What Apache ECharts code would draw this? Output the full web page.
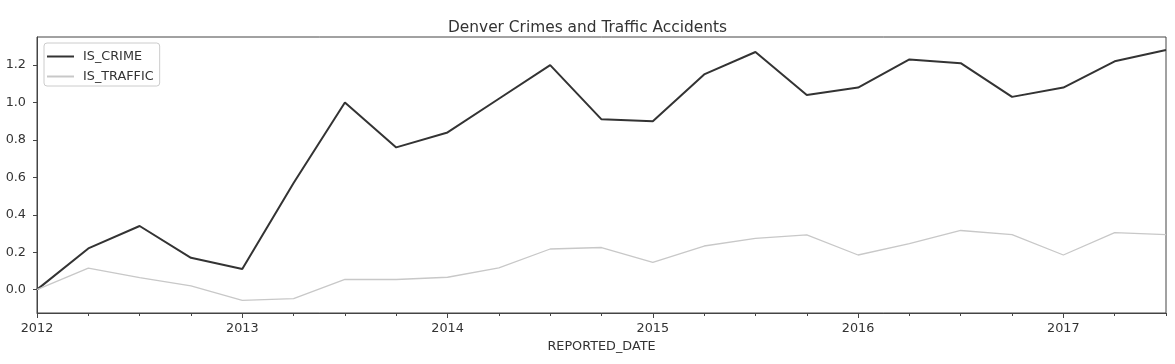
<!DOCTYPE html>
<html>
<head>
<meta charset="utf-8">
<script src="https://cdn.jsdelivr.net/npm/echarts@6/dist/echarts.min.js"></script>
<style>
html,body{margin:0;padding:0;background:#fff;}
#chart{width:1175px;height:364px;}
</style>
</head>
<body>
<div id="chart"></div>
<script>
// Quarterly periods (fractional year = start of quarter)
const quarters = [2012, 2012.25, 2012.5, 2012.75, 2013, 2013.25, 2013.5, 2013.75,
  2014, 2014.25, 2014.5, 2014.75, 2015, 2015.25, 2015.5, 2015.75,
  2016, 2016.25, 2016.5, 2016.75, 2017, 2017.25, 2017.5];
const isCrime = [0.00, 0.22, 0.34, 0.17, 0.11, 0.57, 1.00, 0.76,
  0.84, 1.02, 1.20, 0.91, 0.90, 1.15, 1.27, 1.04,
  1.08, 1.23, 1.21, 1.03, 1.08, 1.22, 1.28];
const isTraffic = [0.00, 0.115, 0.064, 0.02, -0.057, -0.048, 0.055, 0.054,
  0.066, 0.116, 0.217, 0.225, 0.146, 0.233, 0.274, 0.293,
  0.185, 0.246, 0.316, 0.294, 0.185, 0.305, 0.294];
const yTicks = [0.0, 0.2, 0.4, 0.6, 0.8, 1.0, 1.2];
const yearTicks = [2012, 2013, 2014, 2015, 2016, 2017];

const font = 'DejaVu Sans';
const chart = echarts.init(document.getElementById('chart'), null, {renderer: 'canvas'});
chart.setOption({
  animation: false,
  backgroundColor: '#fff',
  title: {
    text: 'Denver Crimes and Traffic Accidents',
    left: 'center', top: 15,
    textStyle: {fontFamily: font, fontSize: 15.4, fontWeight: 'normal', color: '#333'}
  },
  legend: {
    orient: 'vertical', left: 44, top: 43,
    padding: [7, 6, 3, 3],
    itemGap: 7,
    itemWidth: 27, itemHeight: 2,
    icon: 'rect',
    borderColor: '#ccc', borderWidth: 1, borderRadius: 3,
    textStyle: {fontFamily: font, fontSize: 12.8, color: '#333', padding: [0, 0, 0, 4]},
    data: ['IS_CRIME', 'IS_TRAFFIC']
  },
  grid: {
    left: 37, right: 9, top: 37, bottom: 51,
    show: true, borderColor: '#444', borderWidth: 1, backgroundColor: 'transparent'
  },
  xAxis: [{
    type: 'value', min: 2012, max: 2017.5, interval: 0.25,
    name: 'REPORTED_DATE', nameLocation: 'middle', nameGap: 27,
    nameTextStyle: {fontFamily: font, fontSize: 12.8, color: '#333'},
    axisLine: {show: true, onZero: false, lineStyle: {color: '#444', width: 1}},
    axisTick: {show: true, length: 3, lineStyle: {color: '#444'}},
    axisLabel: {
      customValues: yearTicks,
      fontFamily: font, fontSize: 12.8, color: '#333', margin: 9,
      formatter: v => String(Math.round(v))
    },
    splitLine: {show: false}
  }, {
    type: 'value', min: 2012, max: 2017.5, position: 'bottom',
    axisLine: {show: false, onZero: false},
    axisTick: {show: true, length: 5, customValues: yearTicks, lineStyle: {color: '#444'}},
    axisLabel: {show: false},
    splitLine: {show: false}
  }],
  yAxis: {
    type: 'value', min: -0.125, max: 1.35,
    axisLine: {show: true, onZero: false, lineStyle: {color: '#444', width: 1}},
    axisTick: {show: true, length: 4, customValues: yTicks, lineStyle: {color: '#444'}},
    axisLabel: {
      customValues: yTicks,
      fontFamily: font, fontSize: 12.8, color: '#333', margin: 11,
      formatter: v => v.toFixed(1)
    },
    splitLine: {show: false}
  },
  series: [{
    name: 'IS_CRIME', type: 'line', symbol: 'none',
    data: quarters.map((q, i) => [q, isCrime[i]]),
    lineStyle: {color: '#333', width: 2},
    itemStyle: {color: '#333'}
  }, {
    name: 'IS_TRAFFIC', type: 'line', symbol: 'none',
    data: quarters.map((q, i) => [q, isTraffic[i]]),
    lineStyle: {color: '#c8c8c8', width: 1.3},
    itemStyle: {color: '#c8c8c8'}
  }]
});
</script>
</body>
</html>
